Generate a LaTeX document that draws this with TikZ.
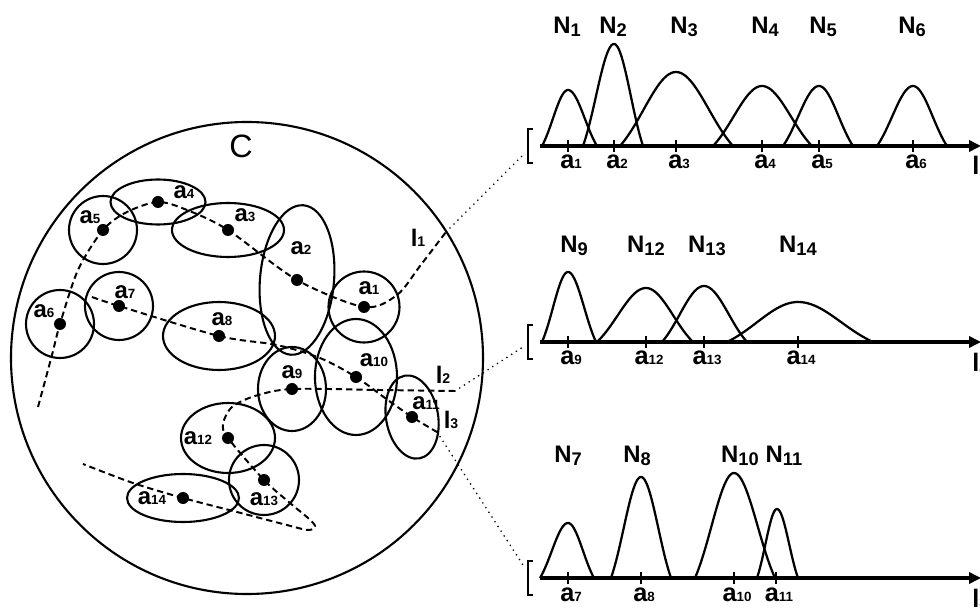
\documentclass[tikz,border=0pt]{standalone}
\usepackage{fontspec}
\setsansfont{Liberation Sans}
\usetikzlibrary{arrows.meta}
\tikzset{
  every picture/.style={font=\sffamily\bfseries},
  rim/.style={line width=1.5pt},
  blob/.style={line width=1.5pt},
  spot/.style={circle, fill=black, inner sep=0pt, minimum size=3mm},
  track/.style={line width=1.4pt, dash pattern=on 4.5pt off 2.8pt},
  link/.style={line width=1.3pt, line cap=round, dash pattern=on 0pt off 4pt},
  hump/.style={line width=1.6pt},
  lineaxis/.style={line width=2.2pt, -{Triangle[length=3mm, width=2.8mm]}},
  tickmark/.style={line width=1.8pt},
  brk/.style={line width=1.7pt},
  lbl/.style={font=\sffamily\bfseries\fontsize{17}{18}\selectfont, inner sep=0pt},
  nlab/.style={font=\sffamily\bfseries\fontsize{17}{18}\selectfont, inner sep=0pt, anchor=base},
  tlab/.style={font=\sffamily\bfseries\fontsize{18}{19}\selectfont, inner sep=0pt, anchor=base},
}
\newcommand{\asub}[1]{a{\fontsize{9.5}{9.5}\selectfont #1}}
\newcommand{\nsub}[1]{N\raisebox{-1.5pt}{\fontsize{13}{13}\selectfont #1}}
\newcommand{\lsub}[1]{l{\fontsize{10}{10}\selectfont #1}}
% one bell, left foot / peak / right foot / height
\newcommand{\bump}[4]{\draw[hump] plot[domain=#1:#2, samples=24, variable=\t] (\t, {#4*gb((\t-#2)/(#2-#1))})
  -- plot[domain=#2:#3, samples=24, variable=\t] (\t, {#4*gb((\t-#2)/(#3-#2))});}

\begin{document}
\begin{tikzpicture}[x=0.025cm, y=-0.025cm, declare function={gb(\u)=(exp(-1.5*\u*\u)-0.2231)/0.7769;}]
  \useasboundingbox (0,0) rectangle (980,609);
  % the cell C
  \draw[rim] (247,358) circle [radius=236];
  \node[font=\sffamily\fontsize{23}{23}\selectfont] (C) at (241,146) {C};
  \foreach \n/\px/\py in {1/364/307, 2/297/280, 3/228/230, 4/158/202, 5/103/230, 6/60/324, 7/119/306,
      8/219/336, 9/292/389, 10/356/377, 11/412/417, 12/228/438, 13/264/480, 14/183/498}
    \coordinate (p\n) at (\px,\py);
  \foreach \n/\rx/\ry/\r in {1/35.5/35.5/0, 2/37/75/-5, 3/56/27/0, 4/47.5/22.5/0, 5/34/34/0, 6/34/34/0,
      7/34/34/0, 8/56/34/0, 9/34/42/0, 10/41/58/0, 11/26/42/10, 12/47/35/0, 13/35/35/0, 14/56/24/0}
    \draw[blob, rotate around={\r:(p\n)}] (p\n) ellipse [x radius=\rx, y radius=\ry];
  % the three lines
  \draw[track] plot[smooth] coordinates {(38,407) (52,355) (p6) (78,270) (p5) (127,212) (p4) (187,210)
      (p3) (p2) (p1) (397,295) (420,266) (446,232)};
  \draw[track] plot[smooth] coordinates {(455,391) (380,390) (p9) (255,396) (232,407) (223,424) (p12)
      (p13) (290,503) (308,518) (315,526) (308,530) (283,524) (237,512) (p14) (133,483) (83,464)};
  \draw[track] plot[smooth] coordinates {(92,297) (p7) (p8) (277,345) (320,358) (p10) (385,398) (p11) (437,432)};
  \coordinate (x1) at (446,232);
  \coordinate (x2) at (455,391);
  \coordinate (x3) at (437,432);
  \foreach \n in {1,...,14} \node[spot] (d\n) at (p\n) {};
  \foreach \n/\lx/\ly in {1/369/288, 2/301/248, 3/245/215, 4/184/192, 5/90/217, 6/44/311, 7/125/292,
      8/222/319, 9/292/372, 10/374/360, 11/426/403, 12/198/438, 13/264/499, 14/152/498}
    \node[lbl] (t\n) at (\lx,\ly) {\asub{\n}};
  \node[lbl] (l1) at (418,238) {\lsub{1}};
  \node[lbl] (l2) at (443,375) {\lsub{2}};
  \node[lbl] (l3) at (451,420) {\lsub{3}};
  % profile along l1
  \begin{scope}[shift={(0,146)}, y=0.025cm]
    \draw[brk] (533,17) -- (528,17) -- (528,-17) -- (533,-17);
    \coordinate (b1) at (523,-9);
    \coordinate (o1) at (540,0);
    \coordinate (e1) at (981,0);
    \draw[lineaxis] (o1) -- (e1);
    \node[tlab, anchor=base west] (ax1) at (972,-29) {\lsub{1}};
    \foreach \c/\k in {568/1, 614/2, 676/3, 762/4, 819/5, 913/6}{
      \draw[tickmark] (\c,-6) -- (\c,6);
      \node[tlab] (q\k) at (\c+3,-23) {\asub{\k}};
    }
    \bump{542}{568}{597}{56}
    \bump{583}{614}{643}{102}
    \bump{620}{676}{733}{74}
    \bump{713}{762}{812}{60}
    \bump{783}{819}{853}{60}
    \bump{877}{913}{947}{60}
    \foreach \c/\k in {567/1, 613/2, 684/3, 765/4, 823/5, 912/6}
      \node[nlab] (n\k) at (\c,112) {\nsub{\k}};
  \end{scope}
  % profile along l2
  \begin{scope}[shift={(0,342)}, y=0.025cm]
    \draw[brk] (533,17) -- (528,17) -- (528,-17) -- (533,-17);
    \coordinate (b2) at (523,-5);
    \coordinate (o2) at (540,0);
    \coordinate (e2) at (981,0);
    \draw[lineaxis] (o2) -- (e2);
    \node[tlab, anchor=base west] (ax2) at (972,-30) {\lsub{2}};
    \foreach \c/\k in {568/9, 646/12, 704/13, 798/14}{
      \draw[tickmark] (\c,-6) -- (\c,6);
      \node[tlab] (q\k) at (\c+3,-23) {\asub{\k}};
    }
    \bump{542}{568}{596}{70}
    \bump{597}{646}{693}{54}
    \bump{662}{704}{747}{56}
    \bump{727}{798}{873}{40}
    \foreach \c/\k in {574/9, 646/12, 707/13, 798/14}
      \node[nlab] (n\k) at (\c,89) {\nsub{\k}};
  \end{scope}
  % profile along l3
  \begin{scope}[shift={(0,578)}, y=0.025cm]
    \draw[brk] (533,17) -- (528,17) -- (528,-17) -- (533,-17);
    \coordinate (b3) at (523,13);
    \coordinate (o3) at (540,0);
    \coordinate (e3) at (981,0);
    \draw[lineaxis] (o3) -- (e3);
    \node[tlab, anchor=base west] (ax3) at (972,-29) {\lsub{3}};
    \foreach \c/\k in {568/7, 641/8, 734/10, 776/11}{
      \draw[tickmark] (\c,-6) -- (\c,6);
      \node[tlab] (q\k) at (\c+3,-23) {\asub{\k}};
    }
    \bump{540}{568}{594}{55}
    \bump{611}{641}{671}{101}
    \bump{695}{734}{775}{105}
    \bump{757}{777}{798}{69}
    \foreach \c/\k in {568/7, 637/8, 740/10, 784/11}
      \node[nlab] (n\k) at (\c,115) {\nsub{\k}};
  \end{scope}
  % dotted links out of the cell
  \draw[link] (x1) -- (b1);
  \draw[link] (x2) -- (b2);
  \draw[link] (x3) -- (b3);
\end{tikzpicture}
\end{document}
